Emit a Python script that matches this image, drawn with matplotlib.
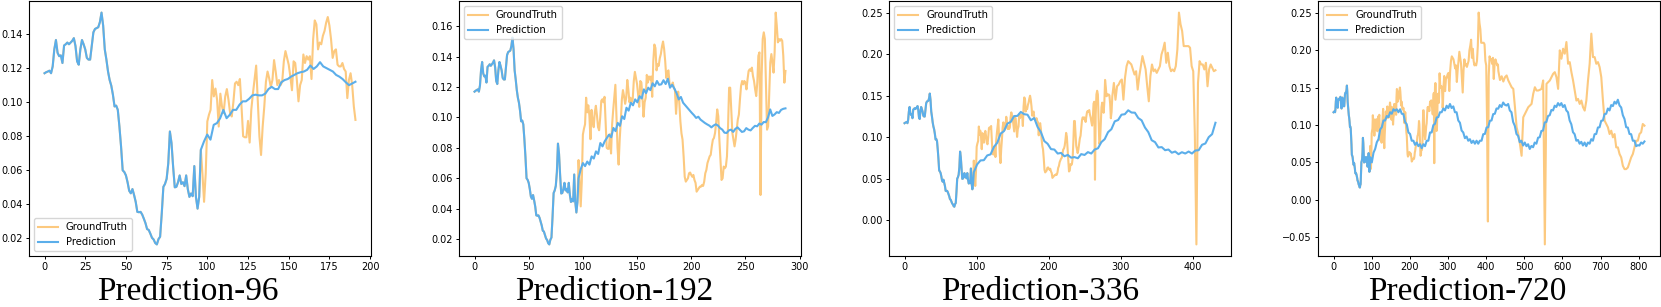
import numpy as np
import matplotlib
matplotlib.use("Agg")
import matplotlib.pyplot as plt
from matplotlib.ticker import MultipleLocator

# input window (steps 0..95), the same in all four plots
entrada = [
    0.117, 0.1176, 0.118, 0.1185, 0.117, 0.121, 0.131, 0.1365, 0.129, 0.127,
    0.1275, 0.123, 0.1333, 0.134, 0.135, 0.134, 0.135, 0.136, 0.1376, 0.133,
    0.124, 0.122, 0.131, 0.1365, 0.134, 0.131, 0.126, 0.125, 0.125, 0.133,
    0.141, 0.143, 0.1435, 0.144, 0.147, 0.1526, 0.145, 0.131, 0.125, 0.118,
    0.113, 0.1097, 0.1044, 0.0975, 0.098, 0.0955, 0.0857, 0.074, 0.060, 0.059,
    0.057, 0.053, 0.048, 0.0465, 0.049, 0.0455, 0.0415, 0.0356, 0.0354, 0.0356,
    0.034, 0.0316, 0.029, 0.0255, 0.025, 0.0228, 0.0204, 0.0194, 0.0173, 0.0165,
    0.0196, 0.021, 0.0346, 0.0503, 0.052, 0.055, 0.064, 0.0828, 0.076, 0.062,
    0.050, 0.0503, 0.053, 0.057, 0.052, 0.053, 0.0507, 0.057, 0.049, 0.0444,
    0.0464, 0.0448, 0.0625, 0.0444, 0.0375, 0.0444,
]

# ground truth after the input window
# steps 96..287, one value per step
gt_a = [
    0.072, 0.058, 0.0415, 0.058, 0.0887, 0.0926, 0.0955, 0.113, 0.1034, 0.108,
    0.1014, 0.0857, 0.105, 0.0975, 0.0936, 0.1034, 0.1077, 0.1014, 0.0936, 0.0916,
    0.100, 0.111, 0.112, 0.110, 0.1136, 0.0975, 0.080, 0.0794, 0.0794, 0.089,
    0.0763, 0.0955, 0.105, 0.113, 0.1215, 0.1014, 0.080, 0.069, 0.0857, 0.0975,
    0.112, 0.118, 0.114, 0.109, 0.113, 0.1247, 0.118, 0.110, 0.113, 0.110,
    0.112, 0.124, 0.130, 0.126, 0.122, 0.115, 0.107, 0.124, 0.123, 0.113,
    0.1005, 0.110, 0.113, 0.128, 0.123, 0.127, 0.125, 0.127, 0.1136, 0.137,
    0.148, 0.1457, 0.131, 0.135, 0.134, 0.139, 0.1418, 0.1467, 0.150, 0.145,
    0.137, 0.126, 0.130, 0.131, 0.122, 0.121, 0.121, 0.123, 0.1195, 0.118,
    0.1024, 0.113, 0.117, 0.110, 0.0975, 0.0896,
    0.0854, 0.0744, 0.061, 0.0578, 0.0589, 0.060, 0.0633, 0.0638, 0.0622, 0.061,
    0.0622, 0.0589, 0.057, 0.0512, 0.0523, 0.0534, 0.0545, 0.0545, 0.0556, 0.055,
    0.0578, 0.0633, 0.0655, 0.070, 0.0721, 0.0744, 0.0754, 0.081, 0.0854, 0.0865,
    0.0898, 0.0964, 0.1053, 0.1008, 0.0854, 0.0721, 0.0589, 0.060, 0.0677, 0.0666,
    0.0677, 0.0744, 0.0942, 0.1196, 0.1196, 0.1053, 0.0898, 0.0854, 0.081, 0.0854,
    0.092, 0.0986, 0.1019, 0.1119, 0.1207, 0.124, 0.1218, 0.124, 0.1229, 0.1185,
    0.1251, 0.1306, 0.1317, 0.1306, 0.1328, 0.1273, 0.124, 0.1185, 0.1141, 0.1229,
    0.1406, 0.1428, 0.049, 0.1273, 0.1516, 0.156, 0.1516, 0.1229, 0.092, 0.0942,
    0.1163, 0.1362, 0.1417, 0.1362, 0.1295, 0.1428, 0.169, 0.1604, 0.1494, 0.1516,
    0.1505, 0.1516, 0.1505, 0.1406, 0.1229, 0.1306,
]
# steps 288..431
gt_b = [
    0.1493, 0.1654, 0.1452, 0.1614, 0.1634, 0.1675, 0.1695, 0.1453, 0.1715, 0.1856,
    0.1916, 0.1896, 0.1876, 0.1816, 0.1755, 0.1795, 0.1574, 0.1735, 0.1856, 0.1977,
    0.1896, 0.1816, 0.1614, 0.1433, 0.1735, 0.1876, 0.1795, 0.1816, 0.1775, 0.1816,
    0.1856, 0.1997, 0.2057, 0.2138, 0.1896, 0.2017, 0.1856, 0.1795, 0.1816, 0.1795,
    0.1856, 0.2057, 0.25, 0.2359, 0.2279, 0.2097, 0.2097, 0.2097, 0.2097, 0.2077,
    0.1856, 0.1795, 0.105, -0.0288, 0.1654, 0.1916, 0.1876, 0.1876, 0.1816, 0.1896,
    0.1614, 0.1816, 0.1876, 0.1836, 0.1795, 0.1807,
]
# steps 432..815
gt_c = [
    0.172, 0.160, 0.165, 0.158,
    0.1638, 0.1661, 0.1594, 0.1549, 0.1504, 0.1482, 0.1237, 0.0969, 0.0879, 0.0746,
    0.0589, 0.1103, 0.1147, 0.1192, 0.1237, 0.1259, 0.1281, 0.1415, 0.1504, 0.1460,
    0.1460, 0.1469, 0.1482, 0.1594, -0.0594, 0.1549, 0.1571, 0.1594, 0.1638, 0.1683,
    0.1705, 0.1638, 0.1482, 0.1996, 0.1884, 0.2018, 0.1951, 0.2107, 0.1817, 0.1839,
    0.1705, 0.1594, 0.1460, 0.1326, 0.1348, 0.1281, 0.1326, 0.1237, 0.1192, 0.1326,
    0.1594, 0.1817, 0.2219, 0.1906, 0.1906, 0.1817, 0.1839, 0.1772, 0.1638, 0.1326,
    0.1058, 0.1013, 0.0969, 0.0879, 0.0924, 0.0835, 0.0879, 0.0701, 0.0701, 0.0612,
    0.0567, 0.0455, 0.0411, 0.0411, 0.0433, 0.0500, 0.0567, 0.0612, 0.0701, 0.0790,
    0.0790, 0.0879, 0.0902, 0.1013, 0.0991,
]

# model outputs for each horizon (start at step 96)
pred96 = [
    0.072, 0.077, 0.081, 0.078, 0.0867, 0.0877, 0.0906, 0.0955, 0.0906, 0.0926,
    0.0955, 0.0955, 0.0985, 0.1005, 0.1005, 0.102, 0.104, 0.1044, 0.104, 0.104,
    0.105, 0.1077, 0.109, 0.1077, 0.1077, 0.1117, 0.113, 0.1136, 0.115, 0.116,
    0.117, 0.1176, 0.118, 0.119, 0.1215, 0.1195, 0.121, 0.1235, 0.121, 0.120,
    0.119, 0.118, 0.116, 0.115, 0.1136, 0.1117, 0.110, 0.111, 0.112,
]
pred192 = [
    0.060, 0.066, 0.070, 0.068, 0.071, 0.069, 0.0744, 0.073, 0.0777, 0.076,
    0.0832, 0.081, 0.0843, 0.0865, 0.0887, 0.087, 0.0931, 0.091, 0.0964, 0.0945,
    0.1008, 0.099, 0.1064, 0.1045, 0.1097, 0.108, 0.1119, 0.110, 0.114, 0.1125,
    0.1185, 0.116, 0.1196, 0.118, 0.1225, 0.1205, 0.124, 0.1215, 0.1218, 0.1245,
    0.122, 0.1255, 0.1196, 0.1215, 0.119, 0.116, 0.1119, 0.1135, 0.1097, 0.108,
    0.1064, 0.1045, 0.103, 0.1015, 0.0997, 0.1005, 0.0986, 0.0975, 0.0964, 0.0955,
    0.0947, 0.0935, 0.0947, 0.0955, 0.0947, 0.093, 0.092, 0.090, 0.0898, 0.0915,
    0.092, 0.0905, 0.0925, 0.0935, 0.092, 0.0905, 0.0909, 0.093, 0.092, 0.0915,
    0.0931, 0.0945, 0.0942, 0.096, 0.0953, 0.097, 0.0969, 0.100, 0.1053, 0.101,
    0.102, 0.1035, 0.103, 0.105, 0.1057, 0.106,
]
pred336 = [
    0.058, 0.0675, 0.0722, 0.0725, 0.0782, 0.0795, 0.0885, 0.0935, 0.1045, 0.1075,
    0.1165, 0.1185, 0.1255, 0.1258, 0.1305, 0.1278, 0.1272, 0.1205, 0.1232, 0.1125,
    0.1062, 0.0955, 0.0922, 0.0858, 0.0853, 0.0805, 0.0812, 0.0772, 0.0788, 0.0755,
    0.0762, 0.0748, 0.0798, 0.0788, 0.0822, 0.0805, 0.0853, 0.0868, 0.0942, 0.0978,
    0.1062, 0.1098, 0.1192, 0.1208, 0.1272, 0.1278, 0.1325, 0.1298, 0.1296, 0.1232,
    0.1204, 0.1118, 0.1062, 0.0965, 0.0942, 0.0878, 0.0882, 0.0845, 0.0853, 0.0815,
    0.0829, 0.0797, 0.0821, 0.0805, 0.0829, 0.0805, 0.0841, 0.0845, 0.0910, 0.0926,
    0.1002, 0.1038, 0.1175,
]
pred720 = [
    0.057, 0.050, 0.063, 0.068, 0.077, 0.081, 0.094, 0.097, 0.106, 0.106,
    0.112, 0.1105, 0.117, 0.115, 0.121, 0.119, 0.121, 0.117, 0.121, 0.115,
    0.1145, 0.104, 0.101, 0.090, 0.088, 0.079, 0.079, 0.0735, 0.0766, 0.0717,
    0.0743, 0.069, 0.0743, 0.0717, 0.079, 0.079, 0.090, 0.090, 0.0998, 0.1016,
    0.110, 0.1105, 0.117, 0.117, 0.122, 0.1194, 0.1257, 0.1226, 0.128, 0.1226,
    0.1248, 0.117, 0.117, 0.106, 0.103, 0.0926, 0.090, 0.0824, 0.0846, 0.079,
    0.081, 0.076, 0.079, 0.075, 0.079, 0.075, 0.079, 0.079, 0.0877, 0.088,
    0.0966, 0.097, 0.1056, 0.106, 0.1145, 0.115, 0.122, 0.1217, 0.1266, 0.124,
    0.130, 0.127,
    0.126, 0.128, 0.1194, 0.117, 0.104, 0.0989, 0.088, 0.0855, 0.077, 0.079,
    0.0726, 0.0766, 0.0717, 0.0743, 0.068, 0.072, 0.0703, 0.0766, 0.075, 0.083,
    0.0837, 0.092, 0.0926, 0.1033, 0.104, 0.112, 0.113, 0.120, 0.1194, 0.1257,
    0.124, 0.1292, 0.126, 0.1292, 0.124, 0.1266, 0.1194, 0.117, 0.106, 0.101,
    0.0904, 0.0877, 0.079, 0.080, 0.075, 0.0775, 0.0726, 0.0766, 0.0717, 0.0766,
    0.075, 0.081, 0.079, 0.0877, 0.088, 0.0966, 0.097, 0.1056, 0.106, 0.1145,
    0.115, 0.122, 0.1194, 0.1266, 0.1252, 0.131, 0.1284, 0.1337, 0.126, 0.1234,
    0.113, 0.108, 0.097, 0.0966, 0.088, 0.0877, 0.079, 0.079, 0.0717, 0.073,
    0.0726, 0.0766, 0.075, 0.078,
]

horizontes = [96, 192, 336, 720]
predicciones = [pred96, pred192, pred336, pred720]
titulos = ["Prediction-96", "Prediction-192", "Prediction-336", "Prediction-720"]

color_gt = "#FCC97F"
color_pred = "#5BAEEA"

n_in = len(entrada)
x_gt = np.concatenate([
    np.arange(n_in),
    np.arange(n_in, n_in + len(gt_a)),
    np.linspace(288, 431, len(gt_b)),
    np.linspace(432, 815, len(gt_c)),
])
y_gt = np.concatenate([entrada, gt_a, gt_b, gt_c])

fig = plt.figure(figsize=(16.61, 3.07), dpi=100)

# axes boxes in pixels (left edge), all the same size
izq = [29, 459, 889, 1318]
centro_titulo = [188, 614, 1040, 1467]
paso_x = [25, 50, 100, 100]
paso_y = [0.02, 0.02, 0.05, 0.05]
leyenda = ["lower left", "upper left", "upper left", "upper left"]

for k in range(4):
    ax = fig.add_axes([izq[k] / 1661, 1 - 256 / 307, 342 / 1661, 255 / 307])
    fin = n_in + horizontes[k] - 1

    m = x_gt <= fin
    ax.plot(x_gt[m], y_gt[m], color=color_gt, lw=1.5, label="GroundTruth")

    x_p = np.concatenate([np.arange(n_in), np.linspace(n_in, fin, len(predicciones[k]))])
    y_p = np.concatenate([entrada, predicciones[k]])
    ax.plot(x_p, y_p, color=color_pred, lw=1.5, label="Prediction")

    ax.xaxis.set_major_locator(MultipleLocator(paso_x[k]))
    ax.yaxis.set_major_locator(MultipleLocator(paso_y[k]))
    ax.tick_params(labelsize=7, length=2.5, width=0.7, pad=2)
    for s in ax.spines.values():
        s.set_linewidth(0.8)
    ax.legend(loc=leyenda[k], fontsize=7.2)

    fig.text(centro_titulo[k] / 1661, 1 - 300 / 307, titulos[k],
             family="Liberation Serif", fontsize=24, ha="center", va="baseline")

fig.savefig("out.png", dpi=100)
